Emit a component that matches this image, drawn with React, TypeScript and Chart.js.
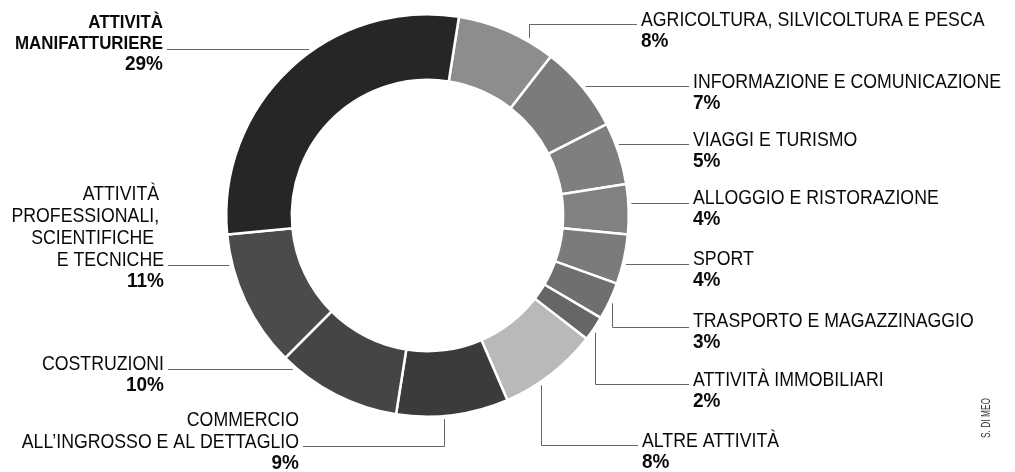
import React, { useEffect, useRef } from "react";
import { Chart, registerables } from "chart.js";

Chart.register(...registerables);

// ---- data ----
const categories = [
  "AGRICOLTURA, SILVICOLTURA E PESCA",
  "INFORMAZIONE E COMUNICAZIONE",
  "VIAGGI E TURISMO",
  "ALLOGGIO E RISTORAZIONE",
  "SPORT",
  "TRASPORTO E MAGAZZINAGGIO",
  "ATTIVITÀ IMMOBILIARI",
  "ALTRE ATTIVITÀ",
  "COMMERCIO ALL’INGROSSO E AL DETTAGLIO",
  "COSTRUZIONI",
  "ATTIVITÀ PROFESSIONALI, SCIENTIFICHE E TECNICHE",
  "ATTIVITÀ MANIFATTURIERE",
];
const shares = [8, 7, 5, 4, 4, 3, 2, 8, 9, 10, 11, 29];
const labelLines = [
  ["AGRICOLTURA, SILVICOLTURA E PESCA"],
  ["INFORMAZIONE E COMUNICAZIONE"],
  ["VIAGGI E TURISMO"],
  ["ALLOGGIO E RISTORAZIONE"],
  ["SPORT"],
  ["TRASPORTO E MAGAZZINAGGIO"],
  ["ATTIVITÀ IMMOBILIARI"],
  ["ALTRE ATTIVITÀ"],
  ["COMMERCIO", "ALL’INGROSSO E AL DETTAGLIO"],
  ["COSTRUZIONI"],
  ["ATTIVITÀ ", "PROFESSIONALI, ", "SCIENTIFICHE  ", "E TECNICHE"],
  ["ATTIVITÀ", "MANIFATTURIERE"],
];
const boldName = [false, false, false, false, false, false, false, false, false, false, false, true];
const sliceColors = [
  "#8d8d8d", "#7b7b7b", "#7f7f7f", "#818181", "#7b7b7b", "#6f6f6f",
  "#666666", "#b9b9b9", "#3b3b3b", "#454545", "#4b4b4b", "#262626",
];
const credit = "S. DI MEO";

// ---- label layout (annotation placement) ----
type Layout = {
  align: "left" | "right";
  textX: number;
  baseline: number;
  leaderY: number;
  kind: "h" | "v";
  frac?: number;
};
const layout: Layout[] = [
  { align: "left", textX: 641, baseline: 26, leaderY: 24, kind: "v", frac: 0.72 },
  { align: "left", textX: 693, baseline: 88, leaderY: 86, kind: "h" },
  { align: "left", textX: 693, baseline: 146, leaderY: 144, kind: "h" },
  { align: "left", textX: 693, baseline: 204, leaderY: 203, kind: "h" },
  { align: "left", textX: 693, baseline: 265, leaderY: 264, kind: "h" },
  { align: "left", textX: 693, baseline: 327, leaderY: 327, kind: "v", frac: 0.52 },
  { align: "left", textX: 693, baseline: 386, leaderY: 384, kind: "v", frac: 0.61 },
  { align: "left", textX: 642, baseline: 447, leaderY: 445, kind: "v", frac: 0.64 },
  { align: "right", textX: 299, baseline: 448, leaderY: 446, kind: "v", frac: 0.58 },
  { align: "right", textX: 164, baseline: 370, leaderY: 369, kind: "h" },
  { align: "right", textX: 164, baseline: 266, leaderY: 265, kind: "h" },
  { align: "right", textX: 163, baseline: 49, leaderY: 49, kind: "h" },
];

const FONT = "'Liberation Sans', Arial, Helvetica, sans-serif";
const NAME_SIZE = 21;
const BOLD_NAME_SIZE = 18;
const PCT_SIZE = 20;
const LINE_STEP = 22;
const BOLD_STEP = 21;
const PCT_STEP = 21;
const GAP = 3;
// reference widths used to fit the condensed look
const NAME_FIT = { text: "INFORMAZIONE E COMUNICAZIONE", width: 308 };
const BOLD_FIT = { text: "MANIFATTURIERE", width: 148 };
const PCT_FIT = { text: "29%", width: 38 };

function drawText(ctx: CanvasRenderingContext2D, t: string, x: number, y: number, sx: number) {
  ctx.save();
  ctx.translate(x, y);
  ctx.scale(sx, 1);
  ctx.fillText(t, 0, 0);
  ctx.restore();
}

const labelPlugin = {
  id: "leaderLabels",
  afterDraw(chart: any) {
    const ctx: CanvasRenderingContext2D = chart.ctx;
    const meta = chart.getDatasetMeta(0);
    ctx.save();
    const nameFont = NAME_SIZE + "px " + FONT;
    const boldFont = "bold " + BOLD_NAME_SIZE + "px " + FONT;
    const pctFont = "bold " + PCT_SIZE + "px " + FONT;
    ctx.font = nameFont;
    const sxName = NAME_FIT.width / ctx.measureText(NAME_FIT.text).width;
    ctx.font = boldFont;
    const sxBold = BOLD_FIT.width / ctx.measureText(BOLD_FIT.text).width;
    ctx.font = pctFont;
    const sxPct = Math.min(1, PCT_FIT.width / ctx.measureText(PCT_FIT.text).width);

    meta.data.forEach((arc: any, i: number) => {
      const L = layout[i];
      const cx = arc.x;
      const cy = arc.y;
      const R = arc.outerRadius + GAP;
      const ly = Math.round(L.leaderY) + 0.5;
      const edgeX = L.align === "left" ? L.textX - 4 : L.textX + 4;
      ctx.strokeStyle = "#666666";
      ctx.lineWidth = 1;
      ctx.beginPath();
      if (L.kind === "h") {
        const dy = L.leaderY - cy;
        const dx = Math.sqrt(Math.max(R * R - dy * dy, 0));
        const rx = L.align === "left" ? cx + dx : cx - dx;
        ctx.moveTo(rx, ly);
        ctx.lineTo(edgeX, ly);
      } else {
        const a = arc.startAngle + (L.frac ?? 0.5) * (arc.endAngle - arc.startAngle);
        const px = Math.round(cx + R * Math.cos(a)) + 0.5;
        const py = cy + R * Math.sin(a);
        ctx.moveTo(px, py);
        ctx.lineTo(px, ly);
        ctx.lineTo(edgeX, ly);
      }
      ctx.stroke();

      // text
      ctx.fillStyle = "#0a0a0a";
      ctx.textAlign = L.align;
      ctx.textBaseline = "alphabetic";
      const lines = labelLines[i];
      const bold = boldName[i];
      ctx.font = bold ? boldFont : nameFont;
      const step = bold ? BOLD_STEP : LINE_STEP;
      lines.forEach((t, k) => {
        const by = L.baseline - (lines.length - 1 - k) * step;
        drawText(ctx, t, L.textX, by, bold ? sxBold : sxName);
      });
      ctx.font = pctFont;
      drawText(ctx, shares[i] + "%", L.textX, L.baseline + PCT_STEP, sxPct);
    });

    // credit
    ctx.save();
    ctx.translate(987, 418);
    ctx.rotate(-Math.PI / 2);
    ctx.font = "12px " + FONT;
    ctx.fillStyle = "#333333";
    ctx.textAlign = "center";
    ctx.textBaseline = "middle";
    const sxc = 40 / ctx.measureText(credit).width;
    ctx.scale(sxc, 1);
    ctx.fillText(credit, 0, 0);
    ctx.restore();
    ctx.restore();
  },
};

export default function App() {
  const ref = useRef<HTMLCanvasElement | null>(null);
  useEffect(() => {
    if (!ref.current) return;
    const chart = new Chart(ref.current, {
      type: "doughnut",
      data: {
        labels: categories,
        datasets: [
          {
            data: shares,
            backgroundColor: sliceColors,
            borderColor: "#ffffff",
            borderWidth: 2.5,
            hoverOffset: 0,
          },
        ],
      },
      options: {
        responsive: false,
        animation: false,
        rotation: 9,
        cutout: "67.4%",
        layout: { padding: { left: 225, right: 385, top: 13, bottom: 54 } },
        plugins: {
          legend: { display: false },
          tooltip: { enabled: false },
        },
      },
      plugins: [labelPlugin],
    });
    return () => chart.destroy();
  }, []);
  return (
    <div style={{ position: "absolute", left: 0, top: 0, width: 1015, height: 472, background: "#fff" }}>
      <canvas ref={ref} width={1015} height={472} style={{ display: "block" }} />
    </div>
  );
}
